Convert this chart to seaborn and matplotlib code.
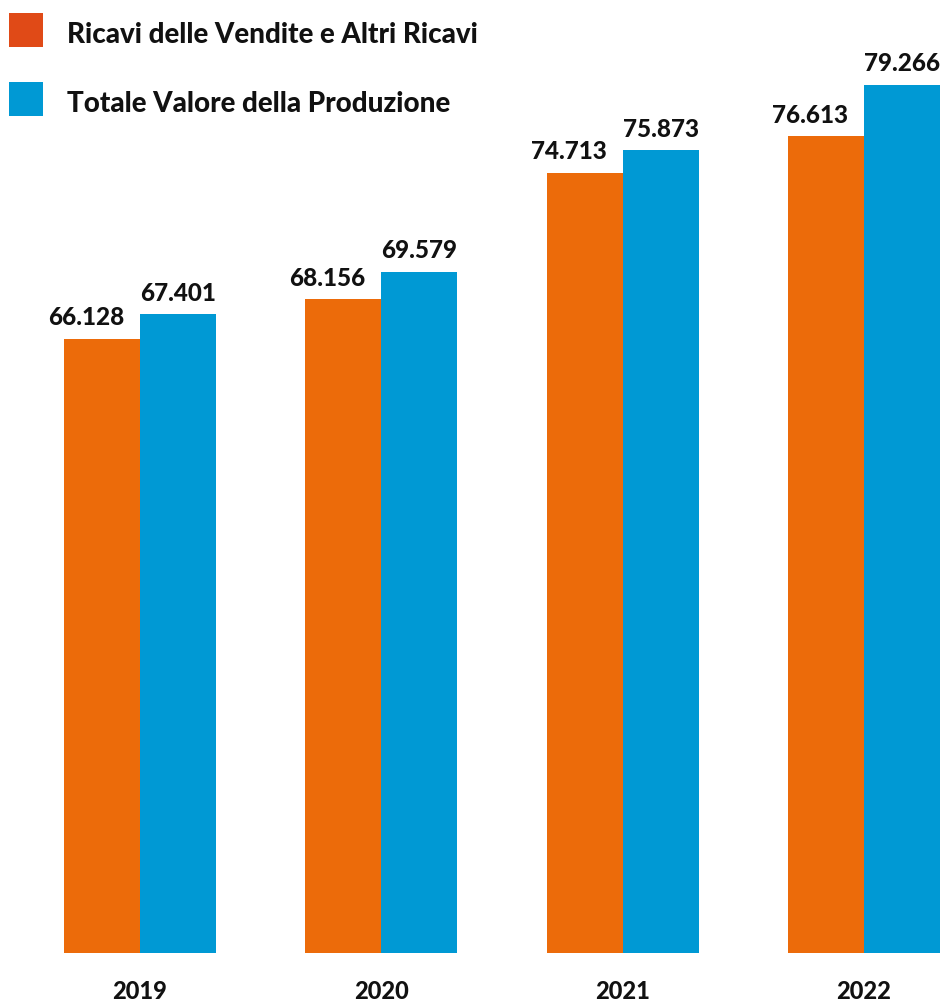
import matplotlib
matplotlib.use("Agg")
import matplotlib.pyplot as plt
from matplotlib.patches import Rectangle
import seaborn as sns
import pandas as pd

years = ["2019", "2020", "2021", "2022"]
series_names = ["Ricavi delle Vendite e Altri Ricavi", "Totale Valore della Produzione"]
ricavi = [66.128, 68.156, 74.713, 76.613]
valore_prod = [67.401, 69.579, 75.873, 79.266]
ricavi_labels = ["66.128", "68.156", "74.713", "76.613"]
valore_labels = ["67.401", "69.579", "75.873", "79.266"]

bar_colors = ["#EC6B0A", "#0099D4"]
legend_colors = ["#E04A17", "#0099D4"]

df = pd.DataFrame({
    "anno": years * 2,
    "serie": [series_names[0]] * 4 + [series_names[1]] * 4,
    "valore": ricavi + valore_prod,
})

sns.set_theme(style="white")
plt.rcParams["font.family"] = ["Lato", "DejaVu Sans"]

fig = plt.figure(figsize=(9.42, 10.03), dpi=100)
ax = fig.add_axes([0, 49 / 1003, 1, 954 / 1003])

sns.barplot(data=df, x="anno", y="valore", hue="serie", order=years,
            hue_order=series_names, palette=bar_colors, saturation=1,
            width=0.63, dodge=True, gap=0, ax=ax, legend=False, linewidth=0)

ax.set_xlim(-0.580, 3.323)
ax.set_ylim(34.35, 83.70)
for s in ax.spines.values():
    s.set_visible(False)
ax.set_yticks([])
ax.set_xlabel("")
ax.set_ylabel("")
ax.tick_params(axis="x", length=0, pad=27)
for lbl in ax.get_xticklabels():
    lbl.set_fontsize(17)
    lbl.set_fontweight(900)
    lbl.set_color("#111111")
    lbl.set_va("center")

label_sets = [ricavi_labels, valore_labels]
offsets = [-16, 0]
for cont, labels, dx in zip(ax.containers, label_sets, offsets):
    for bar, lab in zip(cont.patches, labels):
        x = bar.get_x() + bar.get_width() / 2
        y = bar.get_height() + bar.get_y()
        ax.annotate(lab, (x, y), xytext=(dx, 22), textcoords="offset pixels",
                    ha="center", va="center", fontsize=17.5, fontweight=900,
                    color="#111111")

# legend
for i, (name, col) in enumerate(zip(series_names, legend_colors)):
    ytop = 14 + i * 69
    fig.add_artist(Rectangle((9 / 942, 1 - (ytop + 34) / 1003), 34 / 942, 34 / 1003,
                             transform=fig.transFigure, facecolor=col, edgecolor="none"))
    fig.text(67 / 942, 1 - (ytop + 21) / 1003, name, ha="left", va="center",
             fontsize=20, fontweight=900, color="#111111")

fig.savefig("out.png", dpi=100)
